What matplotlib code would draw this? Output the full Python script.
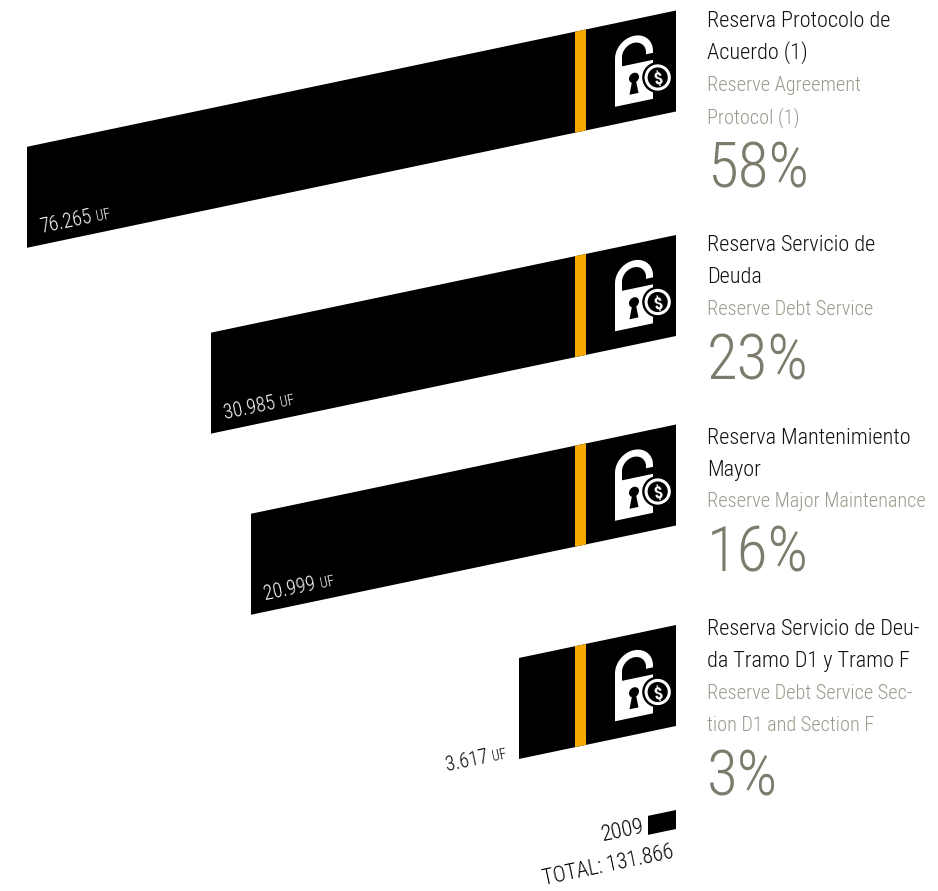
import numpy as np
import matplotlib
matplotlib.use("Agg")
import matplotlib.pyplot as plt
from matplotlib.patches import Circle, Polygon, Rectangle
from matplotlib.transforms import Affine2D

W, H = 938, 891
SLOPE = 0.21
RIGHT = 676

# reserve amounts in UF
values = [76265, 30985, 20999, 3617]
value_labels = ["76.265", "30.985", "20.999", "3.617"]
shares = ["58%", "23%", "16%", "3%"]
titles_es = [
    ["Reserva Protocolo de", "Acuerdo (1)"],
    ["Reserva Servicio de", "Deuda"],
    ["Reserva Mantenimiento", "Mayor"],
    ["Reserva Servicio de Deu-", "da Tramo D1 y Tramo F"],
]
titles_en = [
    ["Reserve Agreement", "Protocol (1)"],
    ["Reserve Debt Service"],
    ["Reserve Major Maintenance"],
    ["Reserve Debt Service Sec-", "tion D1 and Section F"],
]
total_label = "TOTAL: 131.866"
year_label = "2009"

# bar rows: y of the top edge at the right end
bar_tops = [10.5, 235, 424.5, 625]
BAR_H = 101

# the bar length axis is compressed piecewise
scale_vals = [-6050, 0, 3617, 20999, 30985, 76265, 82900]
scale_dist = [-262, 0, 157, 425, 465, 649, 676]


def fwd(v):
    return np.interp(v, scale_vals, scale_dist)


def inv(d):
    return np.interp(d, scale_dist, scale_vals)


plt.rcParams["font.family"] = ["Roboto Condensed", "Liberation Sans", "DejaVu Sans"]
plt.rcParams["font.weight"] = 300

fig = plt.figure(figsize=(W / 100, H / 100), dpi=100, facecolor="white")

ax_bars = fig.add_axes([0, 0, 1, 1])
ax_bars.set_xscale("function", functions=(fwd, inv))
ax_bars.set_xlim(82900, -6050)
ax_bars.set_ylim(H, 0)
ax_bars.axis("off")

ax = fig.add_axes([0, 0, 1, 1], zorder=2)
ax.set_xlim(0, W)
ax.set_ylim(H, 0)
ax.axis("off")
ax.patch.set_alpha(0)

# shear in display space, pivoting on the right end of the bars
shear = Affine2D(np.array([[1, 0, 0], [SLOPE, 1, -SLOPE * RIGHT], [0, 0, 1]]))
tr_bars = ax_bars.transData + shear
tr_px = ax.transData + shear
ROT = np.degrees(np.arctan(SLOPE))


def draw_lock(top):
    # padlock with a dollar badge, positioned from the bar's top edge
    y0 = top + 44.5
    ax.add_patch(Rectangle((615, y0), 38, 39, fc="white", ec="none", transform=tr_px))
    t = np.linspace(np.pi, 0, 40)
    cx, cy, ro, ri = 634, y0 - 9, 19, 12
    outer = np.c_[cx + ro * np.cos(t), cy - ro * np.sin(t)]
    inner = np.c_[cx + ri * np.cos(t[::-1]), cy - ri * np.sin(t[::-1])]
    pts = np.vstack([[[615, y0 + 1]], outer, [[cx + ro, cy + 2], [cx + ri, cy + 2]],
                     inner, [[622, y0 + 1]]])
    ax.add_patch(Polygon(pts, fc="white", ec="none", transform=tr_px))
    # keyhole
    ax.add_patch(Circle((634, y0 + 14), 5, fc="black", ec="none", transform=tr_px))
    ax.add_patch(Polygon([[632.5, y0 + 15], [635.5, y0 + 15], [638.5, y0 + 30], [629.5, y0 + 30]],
                         fc="black", ec="none", transform=tr_px))
    # badge, left unsheared so it stays round
    bx, by = 657.7, top + 67
    ax.add_patch(Circle((bx, by), 15.5, fc="black", ec="none", zorder=3))
    ax.add_patch(Circle((bx, by), 11.6, fc="black", ec="white", lw=2.2, zorder=4))
    ax.text(bx, by, "$", color="white", fontsize=12.5, fontweight="bold", ha="center",
            va="center_baseline", rotation=ROT, zorder=5)


for val, top in zip(values, bar_tops):
    ax_bars.barh(top + BAR_H / 2, val, height=BAR_H, left=0, color="black",
                 linewidth=0, transform=tr_bars)
    ax.add_patch(Rectangle((575, top), 11, BAR_H, fc="#f5a800", ec="none", transform=tr_px))
    draw_lock(top)

# amount labels sit inside the bar, or beside it when the bar is short
for val, lab, top in zip(values, value_labels, bar_tops):
    left = RIGHT - fwd(val)
    if val > 10000:
        x, col, gap = left + 14, "white", 56
        y = top + BAR_H + SLOPE * (RIGHT - x) - 12
    else:
        x, col, gap = 447, "black", 46
        y = 771
    ax.text(x, y, lab, color=col, fontsize=14.2, rotation=ROT, rotation_mode="anchor",
            ha="left", va="baseline")
    ax.text(x + gap, y - SLOPE * gap, "UF", color=col, fontsize=10, rotation=ROT,
            rotation_mode="anchor", ha="left", va="baseline")

# right hand captions
es_base = [[27, 59], [251, 283], [444, 476], [635, 667]]
en_base = [[91, 123], [315], [507], [699, 731]]
pct_base = [187, 380, 572, 795]
for i in range(4):
    for s, y in zip(titles_es[i], es_base[i]):
        ax.text(707, y, s, color="#111111", fontsize=16, va="baseline")
    for s, y in zip(titles_en[i], en_base[i]):
        ax.text(707, y, s, color="#9a9a8c", fontsize=14.6, va="baseline")
    ax.text(707, pct_base[i], shares[i], color="#7c7b6c", fontsize=45.5, va="baseline")

# year key and total
ax.add_patch(Rectangle((648, 810), 28, 19, fc="black", ec="none", transform=tr_px))
ax.text(645, 832, year_label, color="black", fontsize=16, rotation=ROT, rotation_mode="anchor",
        ha="right", va="baseline")
ax.text(675, 858, total_label, color="black", fontsize=15.5, rotation=ROT, rotation_mode="anchor",
        ha="right", va="baseline")

fig.savefig("out.png", dpi=100)
